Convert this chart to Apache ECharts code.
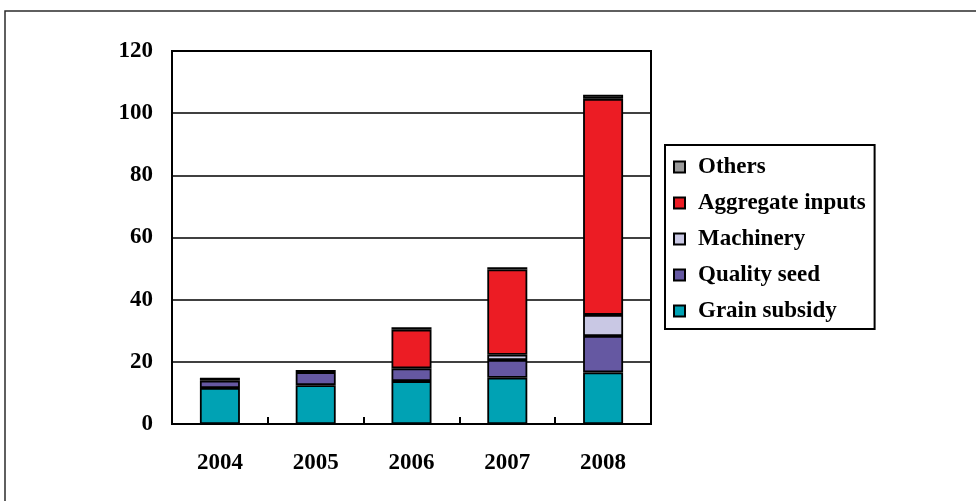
<!DOCTYPE html>
<html>
<head>
<meta charset="utf-8">
<script src="https://cdn.jsdelivr.net/npm/echarts@6/dist/echarts.min.js"></script>
<style>
  html, body { margin: 0; padding: 0; background: #fff; }
  #chart { width: 976px; height: 501px; }
</style>
</head>
<body>
<div id="chart"></div>
<script>
// Agricultural subsidy components by year (billion yuan)
const years = ['2004', '2005', '2006', '2007', '2008'];
const grainSubsidy = [11.6, 12.5, 13.8, 14.9, 16.6];
const qualitySeed = [2.3, 4.2, 4.1, 5.7, 11.7];
const machinery = [0, 0, 0, 1.7, 6.8];
const aggregateInputs = [0, 0, 12.4, 27.4, 69.5];
const others = [1.0, 0.7, 0.8, 0.7, 1.3];
const yTicks = [0, 20, 40, 60, 80, 100, 120];

const FONT = '"Liberation Serif", "DejaVu Serif", serif';

// zero-height segments are left out so they don't leave a stray border line
const seg = arr => arr.map(v => (v === 0 ? '-' : v));

function stackSeries(name, values, color) {
  return {
    name: name,
    type: 'bar',
    stack: 'total',
    barWidth: 40,
    data: seg(values),
    itemStyle: { color: color, borderColor: '#000', borderWidth: 1.8 },
    emphasis: { disabled: true }
  };
}

const chart = echarts.init(document.getElementById('chart'), null, { renderer: 'canvas' });

chart.setOption({
  backgroundColor: '#fff',
  animation: false,
  graphic: [{
    type: 'rect',
    shape: { x: 5, y: 11, width: 1000, height: 600 },
    style: { fill: 'none', stroke: '#2b2b2b', lineWidth: 1.5 },
    silent: true
  }],
  grid: {
    left: 172, right: 325, top: 51, bottom: 77,
    show: true, borderColor: '#000', borderWidth: 2, backgroundColor: 'transparent'
  },
  legend: {
    orient: 'vertical',
    left: 665, top: 145,
    data: ['Others', 'Aggregate inputs', 'Machinery', 'Quality seed', 'Grain subsidy'],
    icon: 'rect',
    itemWidth: 11, itemHeight: 11,
    itemGap: 12,
    padding: [10, 9, 6, 8],
    borderColor: '#000', borderWidth: 2,
    backgroundColor: '#fff',
    textStyle: {
      fontFamily: FONT, fontWeight: 'bold', fontSize: 23, color: '#000',
      lineHeight: 24, padding: [0, 0, 0, 8]
    }
  },
  xAxis: {
    type: 'category',
    data: years,
    axisLine: { show: true, lineStyle: { color: '#000', width: 2 } },
    axisTick: { show: true, inside: true, length: 7, alignWithLabel: false, lineStyle: { color: '#000', width: 2 } },
    axisLabel: { fontFamily: FONT, fontWeight: 'bold', fontSize: 23, color: '#000', margin: 28 }
  },
  yAxis: {
    type: 'value',
    min: yTicks[0], max: yTicks[yTicks.length - 1], interval: yTicks[1] - yTicks[0],
    axisLine: { show: true, lineStyle: { color: '#000', width: 2 } },
    axisTick: { show: false },
    splitLine: { show: true, lineStyle: { color: '#000', width: 1.5 } },
    axisLabel: { fontFamily: FONT, fontWeight: 'bold', fontSize: 23, color: '#000', margin: 19 }
  },
  series: [
    stackSeries('Grain subsidy', grainSubsidy, '#00A2B4'),
    stackSeries('Quality seed', qualitySeed, '#6558A2'),
    stackSeries('Machinery', machinery, '#C9C8E4'),
    stackSeries('Aggregate inputs', aggregateInputs, '#EC1C24'),
    stackSeries('Others', others, '#9A9A9A')
  ]
});
</script>
</body>
</html>
